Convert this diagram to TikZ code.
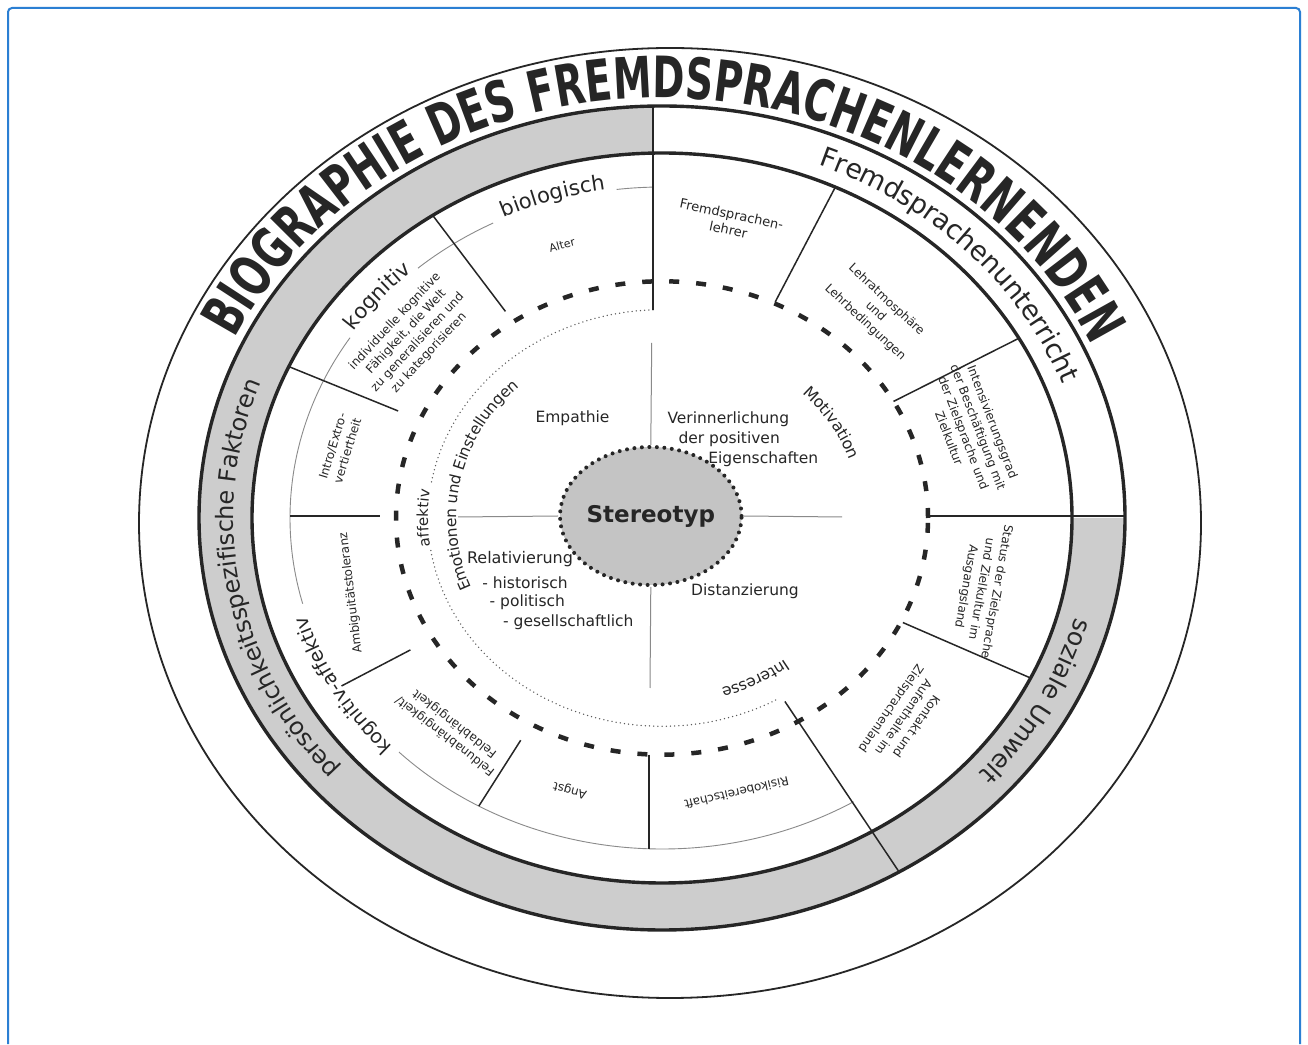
\documentclass[tikz,border=0pt]{standalone}
\usepackage{fontspec}
\setmainfont{DejaVu Sans}
\newfontfamily\titlefont[FakeStretch=0.68]{DejaVu Sans Bold}
\usetikzlibrary{decorations.text,shapes.geometric}

\definecolor{ink}{HTML}{262626}
\definecolor{bandgrey}{HTML}{CDCDCD}
\definecolor{hubgrey}{HTML}{C4C4C4}
\definecolor{hair}{HTML}{8A8A8A}
\definecolor{dotgrey}{HTML}{5A5A5A}
\definecolor{frameblue}{HTML}{2B7FD3}

\newcommand\pxsize[2]{\fontsize{#1}{#2}\selectfont}

\begin{document}
\begin{tikzpicture}[x=1pt,y=1pt,
  frameline/.style={draw=frameblue, line width=2pt, rounded corners=4pt},
  thinring/.style={draw=ink, line width=1.8pt},
  ringline/.style={draw=ink, line width=3.4pt},
  sepline/.style={draw=ink, line width=1.5pt},
  axisline/.style={draw=ink, line width=2.6pt},
  hairline/.style={draw=hair, line width=0.9pt},
  crossline/.style={draw=hair, line width=1pt},
  dashring/.style={draw=ink, line width=4.5pt, dash pattern=on 10pt off 17pt},
  dotring/.style={draw=dotgrey, line width=1.5pt, dash pattern=on 0pt off 4.2pt, line cap=round},
  stereobox/.style={ellipse, minimum width=154pt, minimum height=138pt, inner sep=0pt,
    fill=hubgrey, draw=ink, line width=4pt, dash pattern=on 0pt off 7.5pt, line cap=round,
    font=\bfseries\pxsize{23}{23}, text=ink},
  item/.style={font=\pxsize{12}{15.5}, text=ink, align=center, inner sep=0pt},
  midtext/.style={font=\pxsize{15.5}{19}, text=ink, inner sep=0pt},
  arctext/.style n args={3}{decorate, decoration={text along path, text align=center,
    raise=#1, text={|\color{ink}#2|#3}}}
]
\useasboundingbox (0,0) rectangle (1308,1044);
\fill[white] (0,0) rectangle (1308,1044);

% blue frame
\draw[frameline] (8,0) -- (8,1036) -- (1300,1036) -- (1300,0);

% outermost ring
\draw[thinring] (670,521) ellipse[x radius=531, y radius=475];

\begin{scope}[shift={(662,526)}]
  % grey band (all but the upper right quadrant)
  \fill[bandgrey] (91.1:463 and 412) arc[start angle=91.1, end angle=360, x radius=463, y radius=412]
    -- (0:410 and 365) arc[start angle=360, end angle=91.3, x radius=410, y radius=365] -- cycle;
  \draw[ringline] (0,0) ellipse[x radius=463, y radius=412];
  \draw[ringline] (0,0) ellipse[x radius=410, y radius=365];

  % thin ring of the personal factors, broken for its labels
  \draw[hairline] (91.4:372 and 331) arc[start angle=91.4, end angle=97, x radius=372, y radius=331];
  \draw[hairline] (117:372 and 331) arc[start angle=117, end angle=131, x radius=372, y radius=331];
  \draw[hairline] (147:372 and 331) arc[start angle=147, end angle=195, x radius=372, y radius=331];
  \draw[hairline] (225:372 and 331) arc[start angle=225, end angle=301, x radius=372, y radius=331];

  % dotted ring
  \draw[dotring] (92.2:234 and 208.3) arc[start angle=92.2, end angle=171, x radius=234, y radius=208.3];
  \draw[dotring] (189:234 and 208.3) arc[start angle=189, end angle=300, x radius=234, y radius=208.3];

  % dashed ring
  \draw[dashring] (0,0) ellipse[x radius=266, y radius=236.7];

  % sector separators
  \draw[sepline] (124:410 and 365) -- (124:280 and 249.2);
  \draw[sepline] (155.5:410 and 365) -- (155.5:290 and 258.1);
  \draw[sepline] (210.5:372 and 331) -- (210.5:292 and 259.9);
  \draw[sepline] (240.5:372 and 331) -- (240.5:287 and 255.4);
  \draw[sepline] (-59.2:240 and 213.6) -- (-59.2:463 and 412);
  \draw[sepline] (-26:268 and 238.5) -- (-26:410 and 365);
  \draw[sepline] (29.5:266 and 236.7) -- (29.5:410 and 365);
  \draw[sepline] (65:268 and 238.5) -- (65:410 and 365);

  % ring labels
  \path[arctext={0pt}{\titlefont\pxsize{57}{57}}{BIOGRAPHIE DES FREMDSPRACHENLERNENDEN}]
    (170:472 and 420) arc[start angle=170, end angle=9, x radius=472, y radius=420];
  \path[arctext={-9pt}{\pxsize{27}{27}}{Fremdsprachenunterricht}]
    (80:436.5 and 388.5) arc[start angle=80, end angle=8, x radius=436.5, y radius=388.5];
  \path[arctext={-8pt}{\pxsize{24}{24}}{persönlichkeitsspezifische Faktoren}]
    (235:436.5 and 388.5) arc[start angle=235, end angle=145, x radius=436.5, y radius=388.5];
  \path[arctext={-8.5pt}{\pxsize{25}{25}}{soziale Umwelt}]
    (-5:436.5 and 388.5) arc[start angle=-5, end angle=-52, x radius=436.5, y radius=388.5];

  \path[arctext={1pt}{\pxsize{21}{21}}{biologisch}]
    (122:372 and 331) arc[start angle=122, end angle=92, x radius=372, y radius=331];
  \path[arctext={1pt}{\pxsize{21}{21}}{kognitiv}]
    (150:372 and 331) arc[start angle=150, end angle=128, x radius=372, y radius=331];
  \path[arctext={0pt}{\pxsize{19.5}{19.5}}{kognitiv-affektiv}]
    (235:372 and 331) arc[start angle=235, end angle=185, x radius=372, y radius=331];
  \path[arctext={0pt}{\pxsize{15}{15}}{affektiv}]
    (195:234 and 208.3) arc[start angle=195, end angle=165, x radius=234, y radius=208.3];

  \path[arctext={-4.2pt}{\pxsize{15.5}{15.5}}{Emotionen und Einstellungen}]
    (215:210 and 186.9) arc[start angle=215, end angle=122, x radius=210, y radius=186.9];
  \path[arctext={-4.3pt}{\pxsize{16}{16}}{Motivation}]
    (50:203 and 180.7) arc[start angle=50, end angle=14, x radius=203, y radius=180.7];
  \path[arctext={-4.2pt}{\pxsize{15.5}{15.5}}{Interesse}]
    (-45:205 and 182.5) arc[start angle=-45, end angle=-80, x radius=205, y radius=182.5];
\end{scope}

% quadrant axes
\draw[axisline] (653,734) -- (653,938);
\draw[axisline] (928,528) -- (1125,528);
\draw[axisline] (290,528) -- (380,528);
\draw[axisline] (649,289.3) -- (649,195);

% centre
\node[stereobox] (stereo) at (650.8,528) {Stereotyp};
\draw[crossline] (stereo.north) -- (651.7,701);
\draw[crossline] (stereo.south) -- (650,356);
\draw[crossline] (stereo.west) -- (458,527);
\draw[crossline] (stereo.east) -- (842,527);

\node[midtext] (emp) at (572.5,626) {Empathie};
\node[midtext] (ver1) at (728.3,625) {Verinnerlichung};
\node[midtext] (ver2) at (729.2,605) {der positiven};
\node[midtext] (ver3) at (763.3,585) {Eigenschaften};
\node[midtext, font=\pxsize{16}{19}] (rel0) at (520,485) {Relativierung};
\node[midtext] (rel1) at (525,461) {- historisch};
\node[midtext] (rel2) at (527.3,442) {- politisch};
\node[midtext] (rel3) at (568.3,422) {- gesellschaftlich};
\node[midtext] (dist) at (745,452.3) {Distanzierung};

% sector entries
\node[item, font=\pxsize{11}{13}, rotate=15] (alter) at (562,799) {Alter};
\node[item, font=\pxsize{13}{16}, rotate=-12] (lehrer) at (730,822) {Fremdsprachen-\\lehrer};
\node[item, rotate=-43] (atmo) at (875.7,732.6) {Lehratmosphäre\\und\\Lehrbedingungen};
\node[item, rotate=-69] (intens) at (971,614) {Intensivierungsgrad\\der Beschäftigung mit\\der Zielsprache und\\Zielkultur};
\node[item, rotate=-100] (status) at (981,455) {Status der Zielsprache\\und Zielkultur im\\Ausgangsland};
\node[item, rotate=-125] (kontakt) at (903,327) {Kontakt und\\Aufenthalte im\\Zielsprachenland};
\node[item, rotate=-167] (risiko) at (736.7,250.7) {Risikobereitschaft};
\node[item, rotate=165] (angst) at (570,254) {Angst};
\node[item, rotate=142] (feld) at (450,314.3) {Feldunabhängigkeit/\\Feldabhängigkeit};
\node[item, rotate=97] (ambi) at (351,451.2) {Ambiguitätstoleranz};
\node[item, rotate=73] (intro) at (340,595.7) {Intro/Extro-\\vertiertheit};
\node[item, rotate=47] (kogfaeh) at (412,707) {individuelle kognitive\\Fähigkeit, die Welt\\zu generalisieren und\\zu kategorisieren};
\end{tikzpicture}
\end{document}
